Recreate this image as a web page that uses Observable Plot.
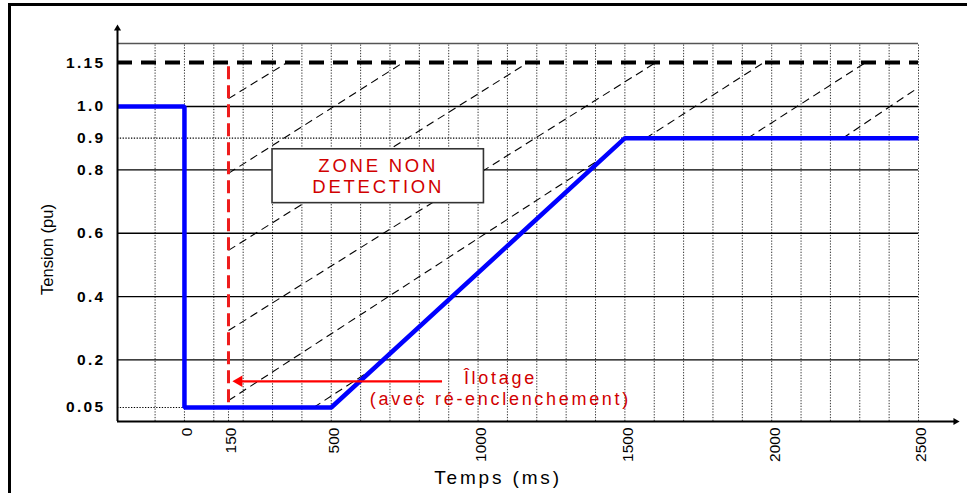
<!DOCTYPE html>
<html>
<head>
<meta charset="utf-8">
<script src="https://cdn.jsdelivr.net/npm/d3@7"></script>
<script src="https://cdn.jsdelivr.net/npm/@observablehq/plot@0.6"></script>
<style>
  html, body { margin: 0; padding: 0; background: #fff; }
  #wrap { position: relative; width: 967px; height: 493px; overflow: hidden; }
  #wrap svg { position: absolute; left: 0; top: 0; }
  #doc { position: absolute; left: 8px; top: 3px; right: -10px; bottom: -10px;
         border-top: 3px solid #000; border-left: 3px solid #000; pointer-events: none; }
  svg text { letter-spacing: 0.15em; }
  svg text[transform*="rotate"] { letter-spacing: 0; }
</style>
</head>
<body>
<div id="wrap"><div id="doc"></div></div>
<script>
// ---- axis extents (ms, pu) ----
const xStart = -228, xEnd = 2500;          // time axis extent
const yBottom = 0.0058, yTop = 1.215;      // voltage axis extent
const xArrowTip = 2626, yArrowTip = 1.266; // axis arrowheads
const upperCompression = 0.925;            // the sketch draws the band above 1.0 pu a bit tighter

// ---- tick values & labels ----
const xTicks = [0, 150, 500, 1000, 1500, 2000, 2500];
const xTickLabels = ["0", "150", "500", "1000", "1500", "2000", "2500"];
const yTicks = [1.15, 1.0, 0.9, 0.8, 0.6, 0.4, 0.2, 0.05];
const yTickLabels = ["1.15", "1.0", "0.9", "0.8", "0.6", "0.4", "0.2", "0.05"];

// ---- grid ----
const gridX = [-100, 0, 100, 200, 300, 400, 500, 600, 700, 800, 900, 1000, 1100, 1200, 1300,
               1400, 1500, 1600, 1700, 1800, 1900, 2000, 2100, 2200, 2300, 2400, 2500];
const gridYSolid = [1.0, 0.8, 0.6, 0.4, 0.2];
const gridYDotted = [0.9];
const lowDotted = [0.05];

// ---- voltage profile (blue) ----
const profileT = [-228, 0, 0, 500, 1500, 2500];
const profileV = [1.0, 1.0, 0.05, 0.05, 0.9, 0.9];

// ---- thresholds ----
const overVoltage = [1.15];
const islandingT = [150];
const islandingV0 = 0.065, islandingV1 = 1.15;

// ---- non-detection zone hatch segments ----
const hatchT1 = [150, 150, 150, 150, 150, 440, 1571, 1918, 2242];
const hatchV1 = [1.027, 0.789, 0.546, 0.293, 0.072, 0.05, 0.9, 0.9, 0.9];
const hatchT2 = [350, 745, 1170, 1605, 1434, 634, 1973, 2320, 2500];
const hatchV2 = [1.15, 1.15, 1.15, 1.15, 0.845, 0.167, 1.15, 1.15, 1.065];

// ---- annotations ----
const boxT = [300, 1020];
const boxV = [0.695, 0.865];
const boxLabel = "ZONE NON\nDETECTION";
const arrowV = 0.1325;
const arrowT = [186, 879];
const noteT = 1076, noteV = 0.112;
const noteLabel = "Îlotage\n(avec ré-enclenchement)";
const xTitle = "Temps (ms)";
const yTitle = "Tension (pu)";

const profile = profileT.map((t, i) => ({t, v: profileV[i]}));
const hatch = hatchT1.map((t, i) => ({t1: t, v1: hatchV1[i], t2: hatchT2[i], v2: hatchV2[i]}));
const box = [{t1: boxT[0], t2: boxT[1], v1: boxV[0], v2: boxV[1]}];

const yWarp = v => (v <= 1 ? v : 1 + (v - 1) * upperCompression);
const RED_TXT = "#d10000";
const dotted = "1.3,1.5";

const chart = Plot.plot({
  width: 967,
  height: 493,
  marginLeft: 117,
  marginRight: 49,
  marginTop: 43,
  marginBottom: 72,
  x: {domain: [xStart, xEnd], axis: null},
  y: {transform: yWarp, domain: [yWarp(yBottom), yWarp(yTop)], axis: null},
  style: {fontFamily: "'Liberation Sans', Arial, sans-serif", background: "transparent", overflow: "visible"},
  marks: [
    // vertical dotted grid
    Plot.ruleX(gridX, {y1: yBottom, y2: yTop, stroke: "#333", strokeWidth: 1, strokeDasharray: dotted}),
    Plot.ruleX(islandingT, {y1: yBottom, y2: 0.05, stroke: "#333", strokeWidth: 1, strokeDasharray: dotted}),
    // top frame line
    Plot.ruleY([yTop], {x1: xStart, x2: xEnd, stroke: "#555", strokeWidth: 1.5}),
    // horizontal grid
    Plot.ruleY(gridYSolid, {x1: xStart, x2: xEnd, stroke: "#000", strokeWidth: 1.3}),
    Plot.ruleY(gridYDotted, {x1: xStart, x2: xEnd, stroke: "#000", strokeWidth: 1.2, strokeDasharray: dotted}),
    Plot.ruleY(lowDotted, {x1: xStart, x2: 0, stroke: "#000", strokeWidth: 1.2, strokeDasharray: dotted}),
    // hatch lines
    Plot.link(hatch, {x1: "t1", y1: "v1", x2: "t2", y2: "v2", stroke: "#000", strokeWidth: 1.1, strokeDasharray: "8,5"}),
    // box
    Plot.rect(box, {x1: "t1", x2: "t2", y1: "v1", y2: "v2", fill: "#fff", stroke: "#333", strokeWidth: 1.6}),
    Plot.text([boxLabel], {x: (boxT[0] + boxT[1]) / 2, y: (boxV[0] + boxV[1]) / 2, text: d => d,
      fill: RED_TXT, fontSize: 18.5, lineHeight: 1.14}),
    // over-voltage threshold
    Plot.ruleY(overVoltage, {x1: xStart, x2: xEnd, stroke: "#000", strokeWidth: 4, strokeDasharray: "15,9"}),
    // islanding red dashed line
    Plot.ruleX(islandingT, {y1: islandingV0, y2: islandingV1, stroke: "#ee1c1c", strokeWidth: 3, strokeDasharray: "13,6"}),
    // voltage profile
    Plot.line(profile, {x: "t", y: "v", stroke: "#0000ff", strokeWidth: 4.5, strokeLinejoin: "miter", strokeLinecap: "butt"}),
    // red arrow
    Plot.ruleY([arrowV], {x1: arrowT[0], x2: arrowT[1], stroke: "#ff0000", strokeWidth: 2.2}),
    Plot.dot([arrowV], {x: arrowT[0], y: d => d, symbol: "triangle2", r: 5.5, rotate: -90, fill: "#ff0000", stroke: "none"}),
    Plot.text([noteLabel], {x: noteT, y: noteV, text: d => d, fill: RED_TXT, fontSize: 18, lineHeight: 1.17}),
    // axes
    Plot.ruleX([xStart], {y1: yBottom, y2: yArrowTip, stroke: "#000", strokeWidth: 2}),
    Plot.ruleY([yBottom], {x1: xStart, x2: xArrowTip, stroke: "#000", strokeWidth: 2}),
    Plot.dot([xStart], {x: d => d, y: yArrowTip, symbol: "triangle2", r: 3.4, fill: "#000", stroke: "none"}),
    Plot.dot([yBottom], {x: xArrowTip, y: d => d, symbol: "triangle2", r: 3.4, rotate: 90, fill: "#000", stroke: "none"}),
    // tick labels
    Plot.text(yTicks, {y: d => d, text: (d, i) => yTickLabels[i], frameAnchor: "left", textAnchor: "end",
      dx: -12, fontSize: 15.5, fontWeight: "bold", fill: "#000"}),
    Plot.text(xTicks, {x: d => d, text: (d, i) => xTickLabels[i], frameAnchor: "bottom", rotate: -90,
      textAnchor: "end", lineAnchor: "middle", dx: 3, dy: 6, fontSize: 15.5, fill: "#000"}),
    // axis titles
    Plot.text([xTitle], {frameAnchor: "bottom", text: d => d, textAnchor: "middle", lineAnchor: "middle",
      dx: -20, dy: 56, fontSize: 19, fill: "#000"}),
    Plot.text([yTitle], {frameAnchor: "left", text: d => d, rotate: -90, textAnchor: "middle", lineAnchor: "middle",
      dx: -70, dy: 17, fontSize: 16.5, fill: "#000"})
  ]
});
document.getElementById("wrap").insertBefore(chart, document.getElementById("doc"));
</script>
</body>
</html>
